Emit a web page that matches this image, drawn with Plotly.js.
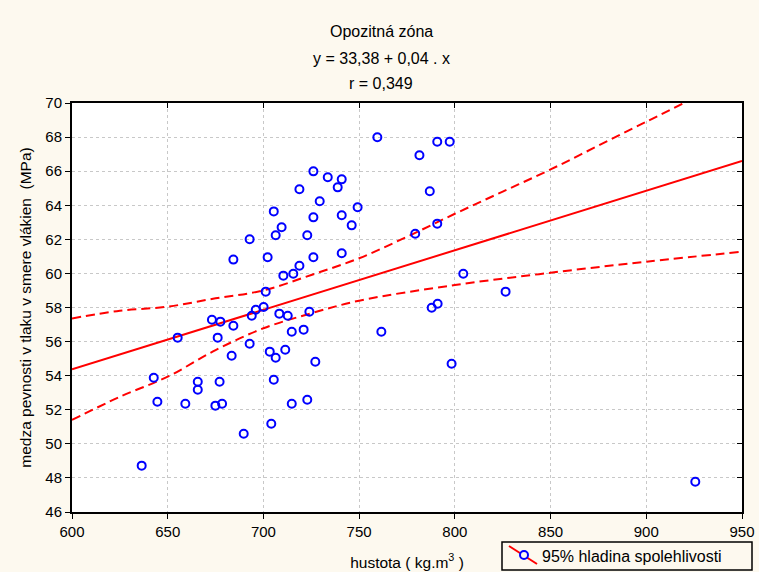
<!DOCTYPE html>
<html>
<head>
<meta charset="utf-8">
<script src="https://cdn.plot.ly/plotly-3.0.1.min.js"></script>
<style>
  html, body { margin: 0; padding: 0; background: #fdf9ef; }
  #chart { width: 759px; height: 572px; }
</style>
</head>
<body>
<div id="chart"></div>
<script>
// Observed data: density (kg.m-3) vs. compressive strength along grain (MPa)
const density = [
  636.4, 642.7, 644.6, 655.2, 659.2, 665.7, 665.7, 673.1, 677.5, 676.1,
  677.1, 674.9, 678.4, 684.3, 683.4, 689.7, 692.8, 693.9, 696.0, 700.1,
  701.2, 703.3, 706.4, 705.4, 704.1, 708.3, 712.7, 711.4, 714.8, 714.8,
  721.0, 724.0, 722.9, 727.1, 761.6, 787.9, 791.0, 798.3, 826.5, 925.6,
  759.5, 790.8, 797.3, 781.5, 786.9, 790.8, 779.3, 804.4, 726.1, 733.6,
  740.9, 738.8, 729.4, 749.2, 726.1, 740.9, 746.1, 722.9, 726.1, 740.9,
  718.8, 718.8, 705.4, 709.5, 706.4, 692.8, 684.3, 702.2, 710.4, 715.6
];
const strength = [
  48.72, 53.88, 52.47, 56.23, 52.35, 53.64, 53.17, 57.28, 57.17, 56.23,
  53.64, 52.24, 52.35, 56.93, 55.17, 50.59, 55.87, 57.52, 57.87, 58.03,
  58.93, 55.41, 55.05, 53.76, 51.18, 57.64, 57.52, 55.52, 56.58, 52.35,
  56.70, 57.75, 52.59, 54.82, 56.58, 57.99, 58.22, 54.70, 58.93, 47.78,
  67.99, 67.73, 67.73, 66.93, 64.82, 62.92, 62.33, 59.98, 65.99, 65.64,
  65.52, 65.05, 64.23, 63.88, 63.29, 63.41, 62.82, 62.24, 60.95, 61.18,
  64.94, 60.45, 63.64, 62.71, 62.24, 62.00, 60.81, 60.95, 59.87, 59.98
];

// Regression line
const fitX = [600, 950];
const fitY = [54.37, 66.60];

// 95% confidence band
const upperX = [600, 625, 650, 675, 700, 725, 750, 775, 800, 825, 850, 875, 900, 925];
const upperY = [57.36, 57.81, 58.05, 58.54, 59.00, 59.91, 60.89, 62.15, 63.50, 64.80, 66.10, 67.50, 68.90, 70.30];
const lowerX = [600, 625, 650, 675, 700, 725, 750, 800, 850, 900, 950];
const lowerY = [51.40, 52.76, 53.94, 55.50, 56.78, 57.66, 58.40, 59.32, 60.04, 60.69, 61.27];

const xTicks = [600, 650, 700, 750, 800, 850, 900, 950];
const yTicks = [46, 48, 50, 52, 54, 56, 58, 60, 62, 64, 66, 68, 70];

const titleLines = ['Opozitná zóna', 'y = 33,38 + 0,04 . x', 'r = 0,349'];
const legendName = '95% hladina spolehlivosti';

const FONT = 'Liberation Sans, Arial, sans-serif';
const RED = '#ff0000';
const BLUE = '#0000ff';
const BG = '#fdf9ef';

const traces = [
  { x: fitX, y: fitY, mode: 'lines', line: { color: RED, width: 2 }, showlegend: false, hoverinfo: 'skip' },
  { x: upperX, y: upperY, mode: 'lines', line: { color: RED, width: 2, dash: '9px,5px', shape: 'spline' }, showlegend: false, hoverinfo: 'skip' },
  { x: lowerX, y: lowerY, mode: 'lines', line: { color: RED, width: 2, dash: '9px,5px', shape: 'spline' }, showlegend: false, hoverinfo: 'skip' },
  { x: density, y: strength, mode: 'markers', showlegend: false,
    marker: { symbol: 'circle-open', size: 8, color: BLUE, line: { color: BLUE, width: 2 } } },
  { x: [600], y: [46], xaxis: 'x2', yaxis: 'y2', mode: 'markers', marker: { opacity: 0 }, showlegend: false, hoverinfo: 'skip' }
];

// pixel -> paper helpers (plot area: x 72..742, y 103..512)
const PX = px => (px - 72) / 670;
const PY = py => (512 - py) / 409;

const titleYpx = [32, 58, 83];
const annotations = titleLines.map((t, i) => ({
  text: t, xref: 'paper', yref: 'paper', x: PX(381), y: PY(titleYpx[i]),
  xanchor: 'center', yanchor: 'middle', showarrow: false,
  font: { family: FONT, size: 16, color: '#000' }
}));
// manual legend text
annotations.push({
  text: legendName, xref: 'paper', yref: 'paper', x: PX(540), y: PY(556),
  xanchor: 'left', yanchor: 'middle', showarrow: false,
  font: { family: FONT, size: 16, color: '#000' }
});

const shapes = [
  // legend box
  { type: 'rect', xref: 'paper', yref: 'paper', x0: PX(502), x1: PX(752), y0: PY(570), y1: PY(542),
    line: { color: '#000', width: 1.5 }, fillcolor: BG },
  // legend symbol: red line with blue circle
  { type: 'line', xref: 'paper', yref: 'paper', x0: PX(509), y0: PY(546), x1: PX(537), y1: PY(564),
    line: { color: RED, width: 2 } },
  { type: 'circle', xref: 'paper', yref: 'paper', x0: PX(520), x1: PX(528), y0: PY(559), y1: PY(551),
    line: { color: BLUE, width: 2 }, fillcolor: BG }
];

const layout = {
  width: 759, height: 572,
  paper_bgcolor: BG,
  plot_bgcolor: '#ffffff',
  margin: { l: 72, r: 17, t: 103, b: 60 },
  font: { family: FONT, size: 15, color: '#000' },
  showlegend: false,
  xaxis: {
    range: [600, 950], tickvals: xTicks, ticktext: xTicks.map(String),
    showline: true, linecolor: '#000', linewidth: 2,
    ticks: 'outside', ticklen: 5, tickwidth: 1, tickcolor: '#000',
    showgrid: true, gridcolor: '#c8c8c8', griddash: 'dot', gridwidth: 1,
    zeroline: false,
    tickfont: { family: FONT, size: 15 },
    title: { text: 'hustota ( kg.m<sup>3</sup> )', standoff: 18, font: { family: FONT, size: 15.5 } }
  },
  yaxis: {
    range: [46, 70], tickvals: yTicks, ticktext: yTicks.map(String),
    showline: true, linecolor: '#000', linewidth: 2,
    ticks: 'outside', ticklen: 5, tickwidth: 1, tickcolor: '#000',
    showgrid: true, gridcolor: '#c8c8c8', griddash: 'dot', gridwidth: 1,
    zeroline: false,
    tickfont: { family: FONT, size: 15 },
    title: { text: 'medza pevnosti v tlaku v smere vlákien  (MPa)', standoff: 10, font: { family: FONT, size: 15.5 } }
  },
  xaxis2: {
    overlaying: 'x', side: 'top', anchor: 'y', range: [600, 950], tickvals: xTicks,
    showticklabels: false, ticks: 'inside', ticklen: 5, tickcolor: '#000',
    showline: true, linecolor: '#000', linewidth: 2, showgrid: false, zeroline: false
  },
  yaxis2: {
    overlaying: 'y', side: 'right', anchor: 'x', range: [46, 70], tickvals: yTicks,
    showticklabels: false, ticks: 'inside', ticklen: 5, tickcolor: '#000',
    showline: true, linecolor: '#000', linewidth: 2, showgrid: false, zeroline: false
  },
  annotations: annotations,
  shapes: shapes
};

Plotly.newPlot('chart', traces, layout, { displayModeBar: false, staticPlot: true });
</script>
</body>
</html>
